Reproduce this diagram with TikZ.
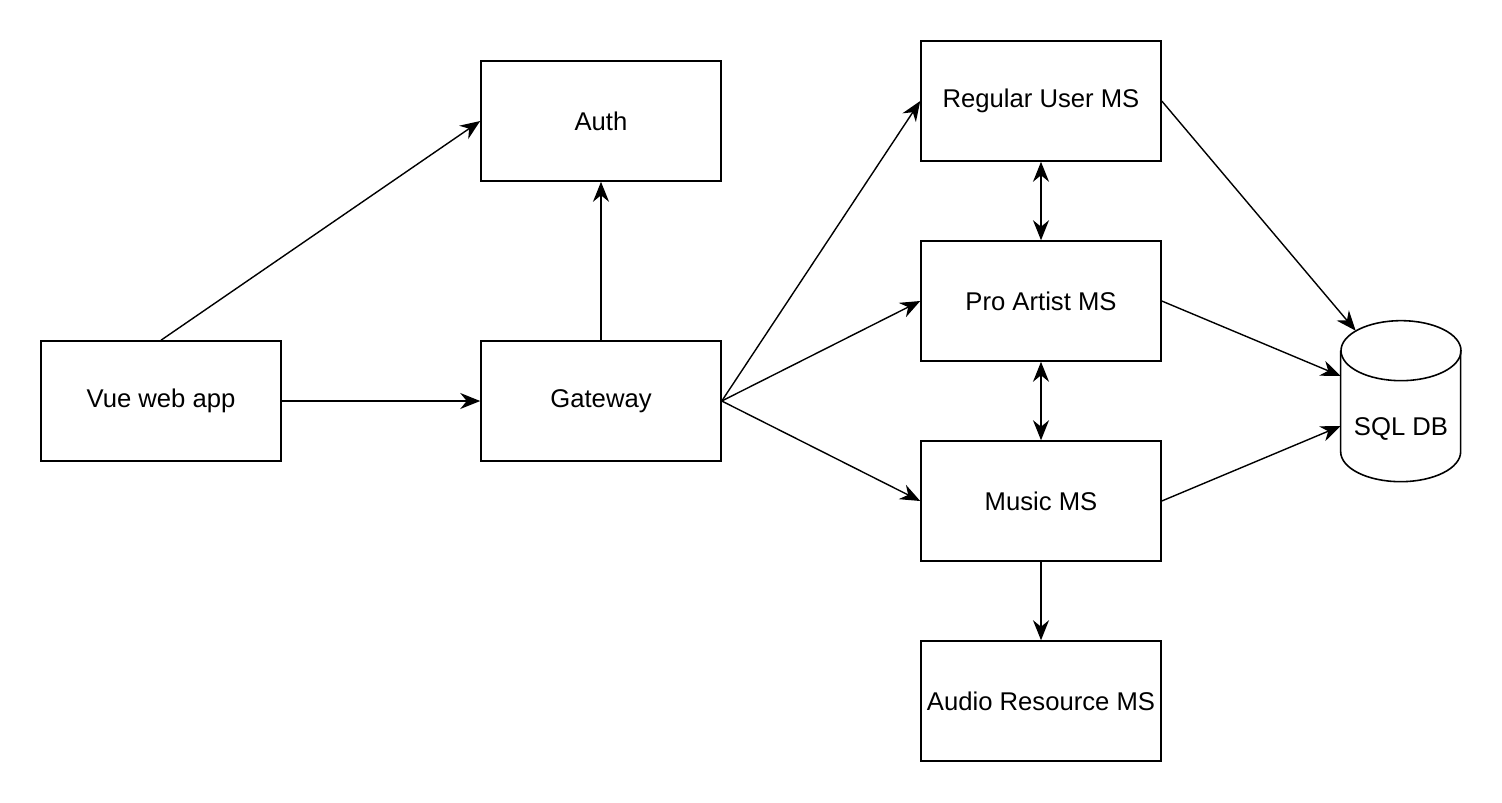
\documentclass[tikz,border=0pt]{standalone}
\usepackage{fontspec}
\setmainfont{Liberation Sans}
\usepackage{tikz}
\usetikzlibrary{arrows.meta, positioning, calc}
\tikzset{
  msbox/.style={rectangle, draw=black, fill=white, minimum width=4.8cm,
    minimum height=2.4cm, align=center, line width=0.9pt, inner xsep=0pt,
    font=\fontsize{14.6pt}{17pt}\selectfont},
  dbbox/.style={rectangle, draw=none, minimum width=2.4cm, minimum height=3.2cm},
  arrow/.style={-{Stealth[length=0.4cm, width=0.32cm]}, line width=0.8pt, color=black},
  biarrow/.style={{Stealth[length=0.4cm, width=0.32cm]}-{Stealth[length=0.4cm, width=0.32cm]}, line width=0.8pt, color=black},
  line/.style={line width=0.9pt, color=black}
}
\begin{document}
\begin{tikzpicture}[x=0.02cm, y=0.02cm]
  \useasboundingbox (0,0) rectangle (1502,-802);

  % Client and gateway
  \node[msbox] (vue) at (161,-401) {Vue web app};
  \node[msbox] (gw) at (601,-401) {Gateway};
  \node[msbox] (auth) at (601,-121) {Auth};

  % Microservices
  \node[msbox] (reg) at (1041,-101) {Regular User MS};
  \node[msbox] (pro) at (1041,-301) {Pro Artist MS};
  \node[msbox] (music) at (1041,-501) {Music MS};
  \node[msbox] (audio) at (1041,-701) {Audio Resource MS};

  % Database
  \node[dbbox] (db) at (1401,-401) {};
  \draw[line] (db.north west) ++(0,-30) -- ++(0,-101)
    arc[start angle=180, end angle=360, x radius=60, y radius=30] -- ++(0,101);
  \draw[line] ($(db.north)+(0,-30)$) ellipse[x radius=60, y radius=30];
  \node[font=\fontsize{14.6pt}{17pt}\selectfont] (dblabel) at ($(db)+(0,-28)$) {SQL DB};

  % Connections
  \draw[arrow] (vue.north) -- (auth.west);
  \draw[arrow] (vue) -- (gw);
  \draw[arrow] (gw) -- (auth);
  \draw[arrow] (gw.east) -- (reg.west);
  \draw[arrow] (gw.east) -- (pro.west);
  \draw[arrow] (gw.east) -- (music.west);
  \draw[biarrow] (reg) -- (pro);
  \draw[biarrow] (pro) -- (music);
  \draw[arrow] (music) -- (audio);
  \draw[arrow] (reg.east) -- ($(db.north west)+(15,-10)$);
  \draw[arrow] (pro.east) -- ($(db.west)+(0,25)$);
  \draw[arrow] (music.east) -- ($(db.west)+(0,-25)$);

\end{tikzpicture}
\end{document}
